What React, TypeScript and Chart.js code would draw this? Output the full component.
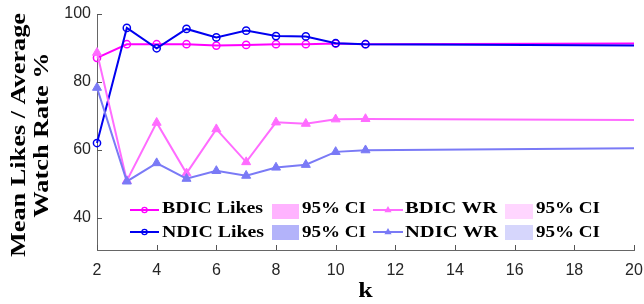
import React, { useEffect, useRef } from 'react';
import { Chart, registerables } from 'chart.js';

Chart.register(...registerables);

// ---- data ----
const K_VALUES = [2, 3, 4, 5, 6, 7, 8, 9, 10, 11, 20];
const BDIC_LIKES = [87.1, 91.1, 91.1, 91.1, 90.7, 90.9, 91.1, 91.1, 91.3, 91.1, 91.3];
const NDIC_LIKES = [62.0, 95.9, 89.9, 95.6, 93.1, 95.1, 93.5, 93.4, 91.4, 91.1, 90.7];
const BDIC_WR = [88.6, 50.9, 68.0, 53.1, 66.1, 56.4, 68.1, 67.7, 69.0, 69.1, 68.8];
const NDIC_WR = [78.3, 50.7, 56.1, 51.5, 53.8, 52.4, 54.8, 55.6, 59.4, 59.9, 60.5];
const MARKER_LAST_K = 11;

const X_TICKS = [2, 4, 6, 8, 10, 12, 14, 16, 18, 20];
const Y_TICKS = [40, 60, 80, 100];
const X_TITLE = 'k';
const Y_TITLE = ['Mean Likes / Average', 'Watch Rate %'];
const LEGEND_ROW1 = ['BDIC Likes', '95% CI', 'BDIC WR', '95% CI'];
const LEGEND_ROW2 = ['NDIC Likes', '95% CI', 'NDIC WR', '95% CI'];

const C_BDIC_LIKES = '#ff00ff';
const C_NDIC_LIKES = '#0000f0';
const C_BDIC_WR = '#ff6cff';
const C_NDIC_WR = '#7a7af6';
const C_CI = ['#ffb3ff', '#b3b3fa', '#ffd6ff', '#d6d6fc'];

const SERIF = '"Liberation Serif", "Times New Roman", serif';
const SANS = '"Liberation Sans", Arial, sans-serif';

function fitText(ctx: CanvasRenderingContext2D, text: string, x: number, y: number, width: number, size: number, align: CanvasTextAlign = 'left') {
  ctx.font = `bold ${size}px ${SERIF}`;
  const w = ctx.measureText(text).width;
  ctx.save();
  ctx.translate(x, y);
  ctx.scale(width / w, 1);
  ctx.textAlign = align;
  ctx.textBaseline = 'alphabetic';
  ctx.fillStyle = '#000';
  ctx.fillText(text, 0, 0);
  ctx.restore();
}

const decorPlugin = {
  id: 'decor',
  afterDraw(chart: any) {
    const ctx: CanvasRenderingContext2D = chart.ctx;
    const xs = chart.scales.x;
    const ys = chart.scales.y;
    const area = chart.chartArea;
    // inward tick marks
    ctx.save();
    ctx.strokeStyle = '#555';
    ctx.lineWidth = 1;
    ctx.beginPath();
    X_TICKS.forEach((t) => {
      const px = Math.round(xs.getPixelForValue(t)) + 0.5;
      ctx.moveTo(px, area.bottom);
      ctx.lineTo(px, area.bottom - 5);
    });
    Y_TICKS.forEach((t) => {
      const py = Math.round(ys.getPixelForValue(t)) + 0.5;
      ctx.moveTo(area.left, py);
      ctx.lineTo(area.left + 5, py);
    });
    ctx.stroke();
    ctx.restore();

    // y title (two lines, rotated)
    ctx.font = `bold 22px ${SERIF}`;
    const w1 = ctx.measureText(Y_TITLE[0]).width;
    const w2 = ctx.measureText(Y_TITLE[1]).width;
    const s = 244 / w1;
    const cy = 135;
    ctx.save();
    ctx.translate(25, cy);
    ctx.rotate(-Math.PI / 2);
    fitText(ctx, Y_TITLE[0], 0, 0, w1 * s, 22, 'center');
    ctx.restore();
    ctx.save();
    ctx.translate(48, cy);
    ctx.rotate(-Math.PI / 2);
    fitText(ctx, Y_TITLE[1], 0, 0, w2 * s, 22, 'center');
    ctx.restore();

    // x title
    ctx.font = `bold 22px ${SERIF}`;
    const wk = ctx.measureText(X_TITLE).width;
    fitText(ctx, X_TITLE, (area.left + area.right) / 2, 297, wk * 1.18, 22, 'center');

    // legend
    const rows = [
      { labels: LEGEND_ROW1, base: 213, lineY: 210, rectTop: 204, lineColors: [C_BDIC_LIKES, C_BDIC_WR], ci: [C_CI[0], C_CI[2]], widths: [101, 64, 92, 64] },
      { labels: LEGEND_ROW2, base: 237, lineY: 232, rectTop: 225, lineColors: [C_NDIC_LIKES, C_NDIC_WR], ci: [C_CI[1], C_CI[3]], widths: [102, 64, 93, 64] },
    ];
    const cols = [
      { kind: 'line', x1: 130, x2: 159, tx: 162, marker: 'circle' },
      { kind: 'rect', x1: 272, x2: 299, tx: 302 },
      { kind: 'line', x1: 373, x2: 403, tx: 405, marker: 'triangle' },
      { kind: 'rect', x1: 505, x2: 533, tx: 536 },
    ];
    rows.forEach((row) => {
      cols.forEach((col, ci) => {
        if (col.kind === 'line') {
          const color = row.lineColors[ci === 0 ? 0 : 1];
          ctx.save();
          ctx.strokeStyle = color;
          ctx.lineWidth = 2;
          ctx.beginPath();
          ctx.moveTo(col.x1, row.lineY);
          ctx.lineTo(col.x2, row.lineY);
          ctx.stroke();
          const mx = (col.x1 + col.x2) / 2;
          if (col.marker === 'circle') {
            ctx.lineWidth = 1.3;
            ctx.beginPath();
            ctx.arc(mx, row.lineY, 2.6, 0, Math.PI * 2);
            ctx.stroke();
          } else {
            ctx.fillStyle = color;
            const r = 4;
            ctx.beginPath();
            ctx.moveTo(mx, row.lineY - r);
            ctx.lineTo(mx + r * 0.9, row.lineY + r * 0.55);
            ctx.lineTo(mx - r * 0.9, row.lineY + r * 0.55);
            ctx.closePath();
            ctx.fill();
          }
          ctx.restore();
        } else {
          ctx.save();
          ctx.fillStyle = row.ci[ci === 1 ? 0 : 1];
          ctx.fillRect(col.x1, row.rectTop, col.x2 - col.x1, 15);
          ctx.restore();
        }
        fitText(ctx, row.labels[ci], col.tx, row.base, row.widths[ci], 16, 'left');
      });
    });
  },
};

function makeDataset(label: string, values: number[], color: string, marker: 'circle' | 'triangle', order: number) {
  return {
    label,
    data: K_VALUES.map((k, i) => ({ x: k, y: values[i] })),
    borderColor: color,
    backgroundColor: color,
    borderWidth: 2,
    pointStyle: marker,
    pointRadius: (c: any) => (K_VALUES[c.dataIndex] > MARKER_LAST_K ? 0 : marker === 'circle' ? 3.6 : 5.2),
    pointBorderWidth: marker === 'circle' ? 1.5 : 1,
    pointBorderColor: color,
    pointBackgroundColor: marker === 'circle' ? 'rgba(0,0,0,0)' : color,
    tension: 0,
    clip: false as any,
    order,
  };
}

export default function App() {
  const ref = useRef<HTMLCanvasElement | null>(null);
  useEffect(() => {
    if (!ref.current) return;
    const chart = new Chart(ref.current, {
      type: 'line',
      data: {
        datasets: [
          makeDataset('BDIC Likes', BDIC_LIKES, C_BDIC_LIKES, 'circle', 4),
          makeDataset('NDIC Likes', NDIC_LIKES, C_NDIC_LIKES, 'circle', 3),
          makeDataset('BDIC WR', BDIC_WR, C_BDIC_WR, 'triangle', 2),
          makeDataset('NDIC WR', NDIC_WR, C_NDIC_WR, 'triangle', 1),
        ] as any,
      },
      options: {
        animation: false,
        responsive: false,
        devicePixelRatio: 1,
        events: [],
        layout: { padding: { left: 0, right: 10, top: 14, bottom: 0 } },
        plugins: { legend: { display: false }, tooltip: { enabled: false }, title: { display: false } },
        scales: {
          x: {
            type: 'linear',
            min: 2,
            max: 20,
            afterBuildTicks: (s: any) => { s.ticks = X_TICKS.map((v) => ({ value: v })); },
            afterFit: (s: any) => { s.height = 54; s.paddingRight = 0; s.paddingLeft = 0; },
            grid: { display: true, drawOnChartArea: false, drawTicks: false },
            border: { display: true, color: '#666', width: 1 },
            ticks: { font: { family: SANS, size: 16 }, color: '#262626', padding: 11, maxRotation: 0, autoSkip: false },
          },
          y: {
            type: 'linear',
            min: 30.5,
            max: 100,
            afterBuildTicks: (s: any) => { s.ticks = Y_TICKS.map((v) => ({ value: v })); },
            afterFit: (s: any) => { s.width = 97; s.paddingTop = 0; s.paddingBottom = 0; },
            grid: { display: true, drawOnChartArea: false, drawTicks: false },
            border: { display: true, color: '#666', width: 1 },
            ticks: { font: { family: SANS, size: 16 }, color: '#262626', padding: 6 },
          },
        },
      },
      plugins: [decorPlugin],
    } as any);
    return () => chart.destroy();
  }, []);
  return (
    <div style={{ position: 'absolute', left: 0, top: 0, width: 644, height: 304, background: '#fff' }}>
      <canvas ref={ref} width={644} height={304} style={{ display: 'block', width: 644, height: 304 }} />
    </div>
  );
}
